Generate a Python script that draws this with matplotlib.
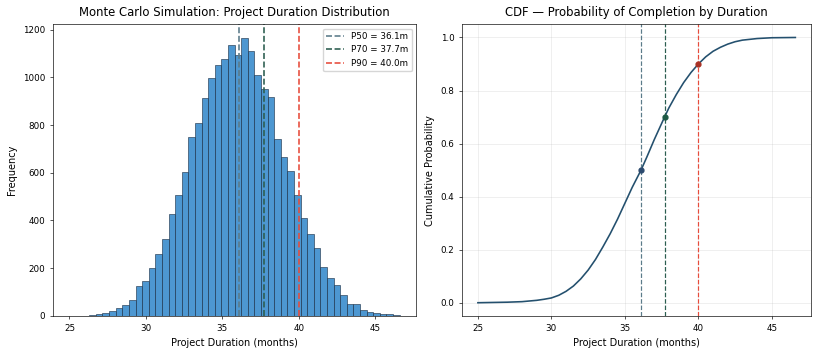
import numpy as np
import matplotlib
matplotlib.use("Agg")
import matplotlib.pyplot as plt

# Histogram data (50 bins between ~25.0 and ~46.6 months)
bin_lo = 25.0
bin_hi = 46.6
counts = [1, 1, 2, 4, 7, 13, 20, 34, 44, 65,
          125, 147, 203, 259, 322, 428, 505, 604, 750, 808,
          914, 998, 1050, 1076, 1137, 1094, 1164, 1111, 1010, 949,
          917, 742, 668, 607, 505, 410, 343, 284, 207, 160,
          128, 87, 52, 52, 24, 15, 11, 8, 10, 4]

# Percentiles
p_names = ["P50", "P70", "P90"]
p_values = [36.1, 37.7, 40.0]
p_probs = [0.5, 0.7, 0.9]
p_colors = ["#5b7b8a", "#2c5e50", "#e74c3c"]
p_dots = ["#2c4a6e", "#1e5a45", "#a93226"]

# CDF points
cdf_x = [25, 26, 27, 28, 29, 29.5, 30, 30.5, 31, 31.5, 32, 32.5, 33, 33.5,
         34, 34.5, 35, 35.5, 36.1, 36.5, 37, 37.7, 38, 38.5, 39, 39.5, 40,
         40.5, 41, 41.5, 42, 42.5, 43, 44, 45, 46.6]
cdf_y = [0.0, 0.001, 0.002, 0.004, 0.009, 0.013, 0.018, 0.028, 0.043, 0.063,
         0.09, 0.123, 0.163, 0.21, 0.26, 0.315, 0.375, 0.435, 0.50, 0.55,
         0.615, 0.70, 0.735, 0.785, 0.83, 0.868, 0.90, 0.927, 0.948, 0.963,
         0.975, 0.984, 0.99, 0.996, 0.999, 1.0]

s = 0.582  # line scale (original drawn at ~58 dpi)
f = 0.70   # font scale
fig = plt.figure(figsize=(8.14, 3.49), dpi=100)
ax1 = fig.add_axes([0.0651, 0.0946, 0.446, 0.836])
ax2 = fig.add_axes([0.5676, 0.0946, 0.429, 0.836])

# Left: histogram
edges = np.linspace(bin_lo, bin_hi, len(counts) + 1)
centers = (edges[:-1] + edges[1:]) / 2
ax1.hist(centers, bins=edges, weights=counts, color="#3a8ccc",
         edgecolor="#1b2f45", linewidth=0.8 * s, alpha=0.9)
for name, v, c in zip(p_names, p_values, p_colors):
    ax1.axvline(v, color=c, linestyle="--", linewidth=2 * s,
                label=f"{name} = {v:.1f}m")
ax1.set_title("Monte Carlo Simulation: Project Duration Distribution", fontsize=12 * f)
ax1.set_xlabel("Project Duration (months)", fontsize=10 * f)
ax1.set_ylabel("Frequency", fontsize=10 * f)
ax1.tick_params(labelsize=9 * f, width=0.8 * s, length=3.5 * s)
ax1.legend(fontsize=9 * f, loc="upper right")
ax1.set_xticks([25, 30, 35, 40, 45])

# Right: CDF
ax2.plot(cdf_x, cdf_y, color="#24506e", linewidth=2 * s)
for v, p, c, d in zip(p_values, p_probs, p_colors, p_dots):
    ax2.axvline(v, color=c, linestyle="--", linewidth=1.5 * s)
    ax2.plot(v, p, "o", color=d, markersize=6 * s)
ax2.set_title("CDF \u2014 Probability of Completion by Duration", fontsize=12 * f)
ax2.set_xlabel("Project Duration (months)", fontsize=10 * f)
ax2.set_ylabel("Cumulative Probability", fontsize=10 * f)
ax2.tick_params(labelsize=9 * f, width=0.8 * s, length=3.5 * s)
ax2.set_xticks([25, 30, 35, 40, 45])
ax2.grid(True, alpha=0.3, linewidth=0.8 * s)

for ax in (ax1, ax2):
    for sp in ax.spines.values():
        sp.set_linewidth(0.8 * s)

fig.savefig("out.png", dpi=100)
